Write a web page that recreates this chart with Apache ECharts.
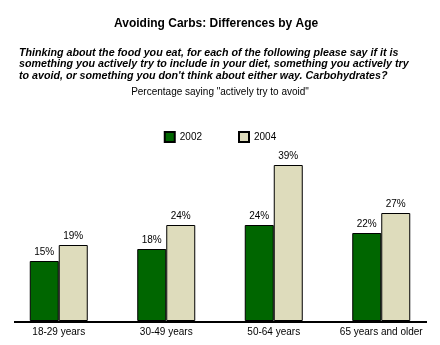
<!DOCTYPE html>
<html>
<head>
<meta charset="utf-8">
<script src="https://cdn.jsdelivr.net/npm/echarts@6/dist/echarts.min.js"></script>
<style>html,body{margin:0;padding:0;background:#fff}#c{width:440px;height:345px}</style>
</head>
<body>
<div id="c"></div>
<script>
var categories = ['18-29 years', '30-49 years', '50-64 years', '65 years and older'];
var seriesNames = ['2002', '2004'];
var values2002 = [15, 18, 24, 22];
var values2004 = [19, 24, 39, 27];

var FONT = '"Liberation Sans", Arial, sans-serif';
var chart = echarts.init(document.getElementById('c'));
var labelCfg = {show: true, position: 'top', distance: 4, fontSize: 10, color: '#000', fontFamily: FONT, formatter: '{c}%'};
chart.setOption({
  animation: false,
  title: [
    {text: 'Avoiding Carbs: Differences by Age', left: 109, top: 13,
     textStyle: {fontSize: 12, fontWeight: 'bold', color: '#000', fontFamily: FONT}},
    {text: 'Thinking about the food you eat, for each of the following please say if it is\nsomething you actively try to include in your diet, something you actively try\nto avoid, or something you don\'t think about either way. Carbohydrates?',
     left: 14, top: 42,
     textStyle: {fontSize: 10.7, fontWeight: 'bold', fontStyle: 'italic', color: '#000', fontFamily: FONT, lineHeight: 11.6}},
    {text: 'Percentage saying "actively try to avoid"', left: 'center', top: 82,
     textStyle: {fontSize: 10, fontWeight: 'normal', color: '#000', fontFamily: FONT}}
  ],
  legend: {
    top: 126, left: 'center', itemWidth: 10, itemHeight: 10, itemGap: 36, icon: 'rect',
    textStyle: {fontSize: 10, color: '#000', fontFamily: FONT},
    data: seriesNames
  },
  grid: {left: 5, right: 5, top: 161, bottom: 24},
  xAxis: {
    type: 'category', data: categories,
    axisLine: {show: false}, axisTick: {show: false},
    axisLabel: {interval: 0, fontSize: 10, color: '#000', fontFamily: FONT, margin: 6}
  },
  yAxis: {type: 'value', min: 0, max: 40, show: false, splitLine: {show: false}},
  graphic: [{type: 'line', shape: {x1: 14, y1: 322, x2: 427, y2: 322}, style: {stroke: '#000', lineWidth: 2}}],
  series: [
    {name: seriesNames[0], type: 'bar', data: values2002, barWidth: 29, barGap: '0%',
     itemStyle: {color: '#006600', borderColor: '#000', borderWidth: 1}, label: labelCfg},
    {name: seriesNames[1], type: 'bar', data: values2004, barWidth: 29, barGap: '0%',
     itemStyle: {color: '#DEDCBC', borderColor: '#000', borderWidth: 1}, label: labelCfg}
  ]
});
</script>
</body>
</html>
